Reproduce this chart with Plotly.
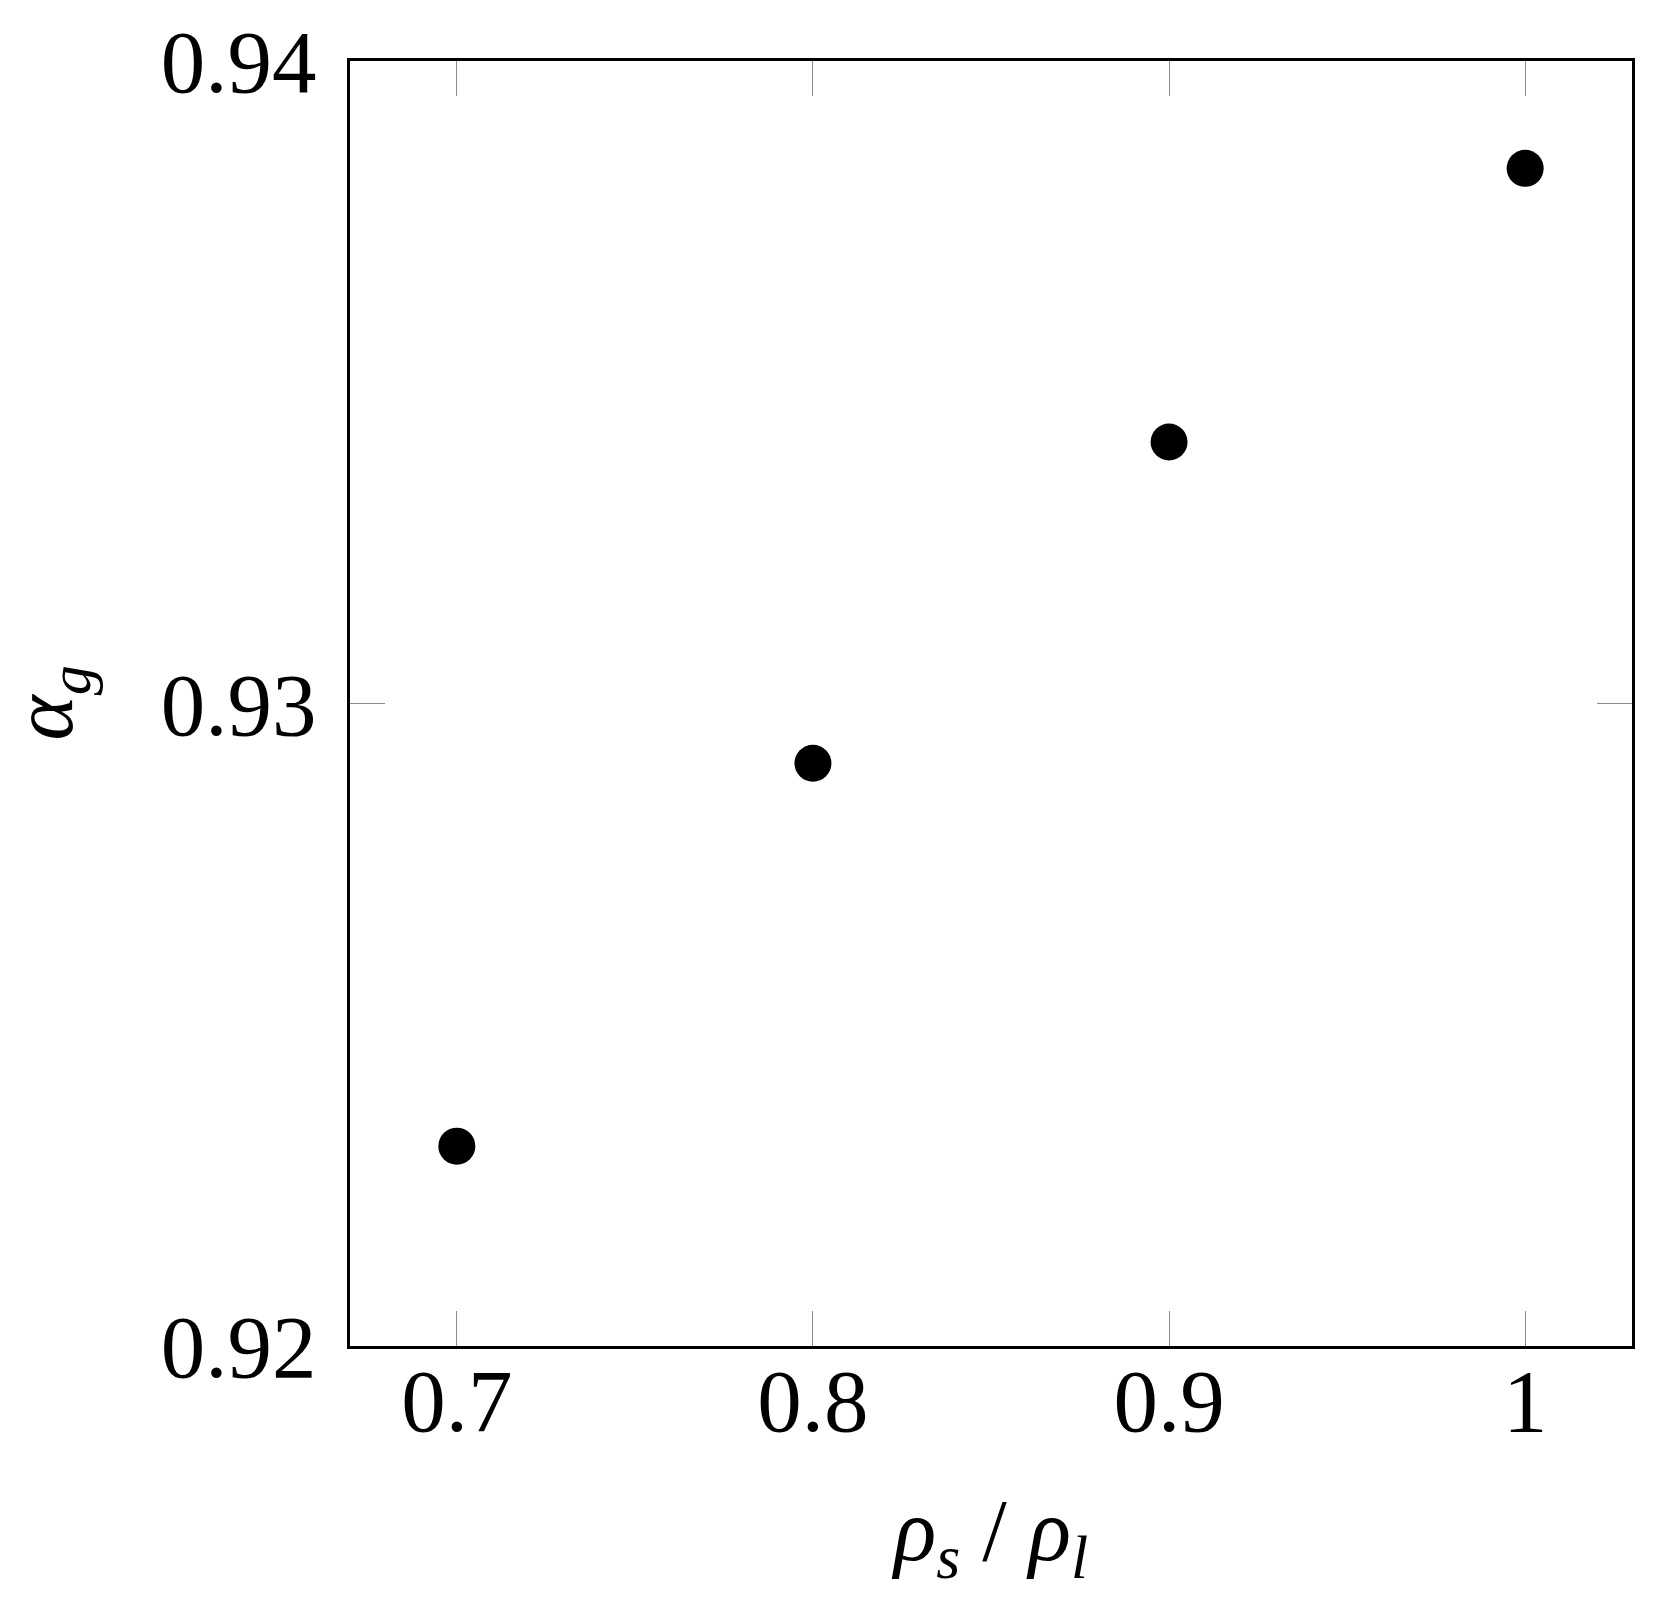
import plotly.graph_objects as go

# density ratio vs gas volume fraction
density_ratio = [0.7, 0.8, 0.9, 1.0]
alpha_g = [0.92311, 0.92907, 0.93407, 0.93833]

x_ticks = [0.7, 0.8, 0.9, 1.0]
x_ticktext = ["0.7", "0.8", "0.9", "1"]
y_ticks = [0.92, 0.93, 0.94]
y_ticktext = ["0.92", "0.93", "0.94"]

serif = "Liberation Serif, DejaVu Serif, serif"

fig = go.Figure()
fig.add_trace(go.Scatter(x=density_ratio, y=alpha_g, mode='markers',
                         marker={'color': 'black', 'size': 37}, showlegend=False))

axis_common = dict(showline=True, linecolor='black', linewidth=2.5, mirror='ticks',
                   ticks='inside', ticklen=35, tickwidth=1.3, tickcolor='#8c8c8c',
                   showgrid=False, zeroline=False, automargin=False,
                   tickfont={'family': serif, 'size': 89, 'color': 'black'})

fig.update_xaxes(range=[0.67, 1.03], tickvals=x_ticks, ticktext=x_ticktext,
                 ticklabelstandoff=-25,
                 title={'text': '<i>ρ</i><sub><i>s</i></sub> / <i>ρ</i><sub><i>l</i></sub>',
                        'font': {'family': serif, 'size': 88, 'color': 'black'}, 'standoff': 50},
                 **axis_common)
fig.update_yaxes(range=[0.92, 0.94], tickvals=y_ticks, ticktext=y_ticktext,
                 ticklabelstandoff=13, **axis_common)

# y title as an annotation (axis title standoff gets clamped by the margin)
fig.add_annotation(text='<i>α</i><sub><i>g</i></sub>', textangle=-90,
                   xref='paper', yref='paper', x=0, y=0.5, xanchor='center', yanchor='middle',
                   xshift=-302, showarrow=False,
                   font={'family': serif, 'size': 86, 'color': 'black'})

# page body adds an 8px offset, so the figure is a bit smaller than the window
fig.update_layout(width=1651, height=1605, plot_bgcolor='white', paper_bgcolor='white',
                  margin={'l': 342, 'r': 27, 't': 53, 'b': 267})

fig.write_html("out.html")
